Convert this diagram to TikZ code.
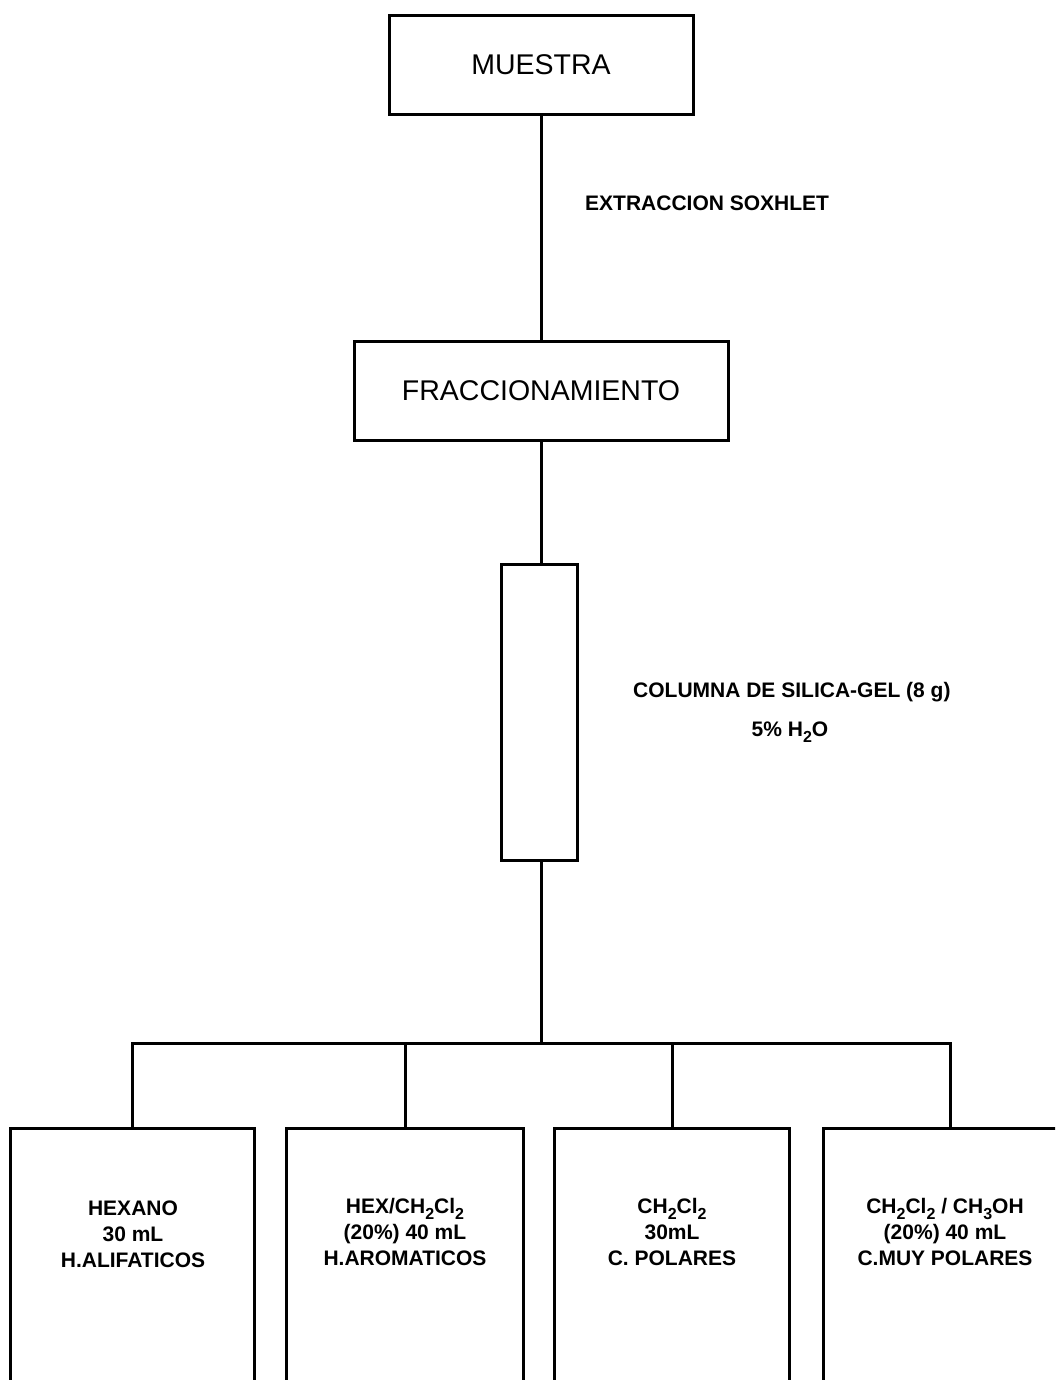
\documentclass[tikz,border=0pt]{standalone}
\usepackage{fontspec}
\setmainfont{Liberation Sans}
\newcommand\sbs[1]{\raisebox{-0.55ex}{\fontsize{16}{16}\selectfont #1}}
\tikzset{
  conn/.style={line width=3pt},
  bigbox/.style={draw, line width=3pt, minimum height=99pt, font=\fontsize{28.5}{32}\selectfont},
  outbox/.style={draw, line width=3pt, minimum width=244pt, minimum height=300pt},
  lbl/.style={font=\bfseries\fontsize{21}{26}\selectfont, inner sep=0pt},
  boxtext/.style={font=\bfseries\fontsize{21}{26}\selectfont, align=center, inner sep=0pt}
}
\begin{document}
\begin{tikzpicture}[x=1pt,y=-1pt]
\useasboundingbox (0,0) rectangle (1055,1380);
\clip (0,0) rectangle (1055,1380);
\fill[white] (0,0) rectangle (1055,1380);
\node[bigbox, minimum width=304pt] (muestra) at (541,65) {MUESTRA};
\node[bigbox, minimum width=374pt] (frac) at (541,391) {FRACCIONAMIENTO};
\node[draw, line width=3pt, minimum width=76pt, minimum height=296pt] (col) at (539,712) {};
\coordinate (j) at (541,1043);
\node[outbox] (b1) at (132,1278) {};
\node[outbox, minimum width=237pt] (b2) at (405,1278) {};
\node[outbox, minimum width=235pt] (b3) at (672,1278) {};
\node[outbox, minimum width=254pt] (b4) at (950,1278) {};
\node[lbl, anchor=west] (ext) at (585,203) {EXTRACCION SOXHLET};
\node[lbl, anchor=west] (colu) at (633,692) {COLUMNA DE SILICA-GEL (8 g)};
\node[lbl] (agua) at (790,732) {5\% H\sbs{2}O};
\node[boxtext] (t1) at (133,1234) {HEXANO\\30 mL\\H.ALIFATICOS};
\node[boxtext] (t2) at (405,1232) {HEX/CH\sbs{2}Cl\sbs{2}\\(20\%) 40 mL\\H.AROMATICOS};
\node[boxtext] (t3) at (672,1232) {CH\sbs{2}Cl\sbs{2}\\30mL\\C. POLARES};
\node[boxtext] (t4) at (945,1232) {CH\sbs{2}Cl\sbs{2} / CH\sbs{3}OH\\(20\%) 40 mL\\C.MUY POLARES};
\draw[conn] (muestra.south) -- (frac.north);
\draw[conn] (frac.south) -- (frac.south |- col.north);
\draw[conn] (col.south -| j) -- (j);
\draw[conn] (b1.north) |- (b4.north |- j) -- (b4.north);
\draw[conn] (b2.north) -- (b2.north |- j);
\draw[conn] (b3.north) -- (b3.north |- j);
\end{tikzpicture}
\end{document}
